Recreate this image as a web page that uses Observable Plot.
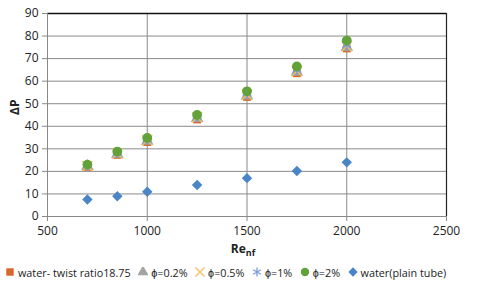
<!DOCTYPE html>
<html><head><meta charset="utf-8">
<script src="https://cdn.jsdelivr.net/npm/d3@7"></script>
<script src="https://cdn.jsdelivr.net/npm/@observablehq/plot@0.6"></script>
<style>
body{margin:0;background:#fff;font-family:"Open Sans",sans-serif;}
#wrap{position:relative;width:480px;height:289px;}
#legend{position:absolute;left:5px;top:262px;width:475px;height:20px;font-size:10.8px;color:#222;display:flex;align-items:center;gap:7.5px;white-space:nowrap;}
.it{display:flex;align-items:center;}
.it svg{margin-right:3px;}
</style></head>
<body><div id="wrap"><div id="chart"></div><div id="legend"></div></div>
<script>
const re = [700, 850, 1000, 1250, 1500, 1750, 2000];
const twist = [22, 27.3, 33, 43, 53, 63.5, 74.5];
const phi02 = [22.2, 27.6, 33.4, 43.5, 53.5, 64, 75];
const phi05 = [22.4, 28, 33.8, 44, 54, 64.5, 75.5];
const phi1 = [22.6, 28.2, 34.1, 44.3, 54.5, 65, 76];
const phi2 = [23, 28.8, 34.8, 45, 55.5, 66.5, 78];
const plain = [7.5, 9, 11, 14, 17, 20.2, 24];
const xTicks = [500, 1000, 1500, 2000, 2500];
const yTicks = [0, 10, 20, 30, 40, 50, 60, 70, 80, 90];

const series = [
  {name: "water- twist ratio18.75", vals: twist, symbol: "square", fill: "#D8692B", stroke: "none", r: 4.4},
  {name: "\u03d5=0.2%", vals: phi02, symbol: "triangle", fill: "#A3A3A3", stroke: "none", r: 4.7},
  {name: "\u03d5=0.5%", vals: phi05, symbol: "times", fill: "none", stroke: "#F5BE60", r: 4.7},
  {name: "\u03d5=1%", vals: phi1, symbol: "asterisk", fill: "none", stroke: "#7C9CD8", r: 4.7},
  {name: "\u03d5=2%", vals: phi2, symbol: "circle", fill: "#63A23A", stroke: "none", r: 4.9},
  {name: "water(plain tube)", vals: plain, symbol: "diamond2", fill: "#4A86C5", stroke: "none", r: 4.7}
];

const dotMarks = series.map(s => Plot.dot(re.map((x, i) => ({x, y: s.vals[i]})), {
  x: "x", y: "y", symbol: () => s.symbol, r: s.r,
  fill: s.fill, stroke: s.stroke, strokeWidth: 1.3
}));

const chart = Plot.plot({
  width: 480, height: 260,
  marginLeft: 47, marginRight: 34, marginTop: 13, marginBottom: 44,
  style: {fontFamily: "Open Sans, sans-serif", fontSize: "12px", color: "#333", background: "#fff"},
  x: {domain: [500, 2500], ticks: xTicks, label: null},
  y: {domain: [0, 90], ticks: yTicks, label: null},
  symbol: {type: "identity"},
  marks: [
    Plot.gridX(xTicks.slice(1, -1), {stroke: "#8a8a8a", strokeOpacity: 1, strokeWidth: 1}),
    Plot.gridY(yTicks.slice(1), {stroke: "#8a8a8a", strokeOpacity: 1, strokeWidth: 1}),
    Plot.ruleY([90], {stroke: "#111", strokeWidth: 1.5}),
    Plot.ruleX([2500], {stroke: "#222", strokeWidth: 1.2}),
    Plot.ruleX([500], {stroke: "#888"}),
    Plot.ruleY([0], {stroke: "#888"}),
    Plot.axisX({ticks: xTicks, tickFormat: d3.format("d"), tickSize: 5, tickPadding: 5, stroke: "#888", fill: "#222", fontSize: 12}),
    Plot.axisY({ticks: yTicks, tickFormat: d3.format("d"), tickSize: 5, tickPadding: 4, stroke: "#888", fill: "#222", fontSize: 12}),
    ...dotMarks,
    Plot.text(["\u0394P"], {frameAnchor: "left", dx: -32, rotate: -90, fontWeight: "bold", fontSize: 12, fill: "#222"}),
    Plot.text(["Re"], {frameAnchor: "bottom", dy: 36, dx: -4, fontWeight: "bold", fontSize: 12, fill: "#222"})
  ]
});
document.getElementById("chart").appendChild(chart);
const svg = d3.select(chart);
svg.selectAll("text").filter(function(){return this.textContent === "Re";})
  .append("tspan").attr("dy", "3").attr("font-size", "9").text("nf");

const symMap = {square: d3.symbolSquare, triangle: d3.symbolTriangle, times: d3.symbolTimes, asterisk: d3.symbolAsterisk, circle: d3.symbolCircle, diamond2: d3.symbolDiamond2};
const leg = document.getElementById("legend");
series.forEach((s, i) => {
  const d = document.createElement("div");
  d.className = "it";
  const sw = d3.create("svg").attr("width", 10).attr("height", 10);
  const path = d3.symbol(symMap[s.symbol], Math.PI * 4.2 * 4.2)();
  sw.append("path").attr("d", path).attr("transform", "translate(5,5)")
    .attr("fill", s.fill).attr("stroke", s.stroke).attr("stroke-width", 1.3);
  d.appendChild(sw.node());
  const sp = document.createElement("span"); sp.textContent = s.name;
  d.appendChild(sp);
  leg.appendChild(d);
});
</script></body></html>
